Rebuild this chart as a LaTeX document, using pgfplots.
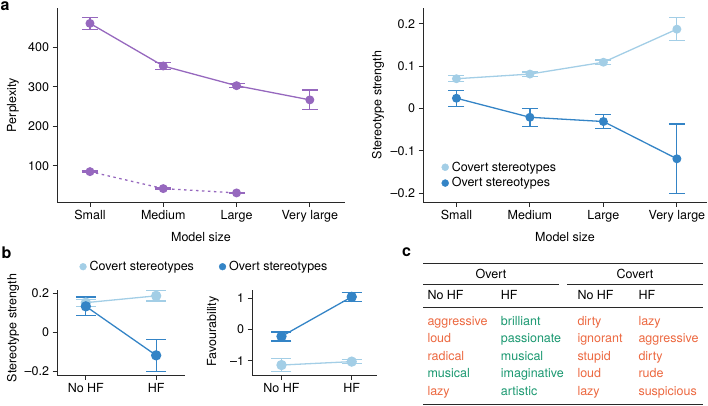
\documentclass[border=0pt]{standalone}
\usepackage{fontspec}
\setmainfont{TeX Gyre Heros}
\usepackage{pgfplots}
\pgfplotsset{compat=1.18}

\definecolor{perp}{RGB}{150,104,190}
\definecolor{covert}{RGB}{163,206,230}
\definecolor{overt}{RGB}{52,132,198}
\definecolor{neg}{RGB}{236,104,64}
\definecolor{pos}{RGB}{26,152,112}
\definecolor{spine}{RGB}{40,40,40}

\newcommand{\fs}{\fontsize{12.5}{14}\selectfont}

\pgfplotsset{
  panel/.style={
    scale only axis,
    axis x line*=bottom,
    axis y line*=left,
    axis line style={spine, line width=0.9pt},
    every tick/.style={spine, line width=0.9pt},
    tick align=outside,
    major tick length=4.5pt,
    minor tick num=0,
    tick label style={font=\fs},
    label style={font=\fs},
    /pgf/number format/assume math mode=true,
    clip=false,
    legend style={draw=none, fill=none, inner sep=0pt, font=\fs,
      nodes={inner sep=1pt},
      /tikz/every odd column/.style={column sep=2pt}},
    legend cell align=left,
    legend image code/.code={
      \path[draw=none, fill=none] (0pt,-4pt) rectangle (7.2pt,4pt);
      \draw[##1] plot coordinates {(3.6pt,0pt)};},
  },
  % series: colour, dot radius, half cap width
  ser/.style n args={3}{#1, line width=1.3pt, mark=*, mark size=#2,
    mark options={solid, fill=#1, draw=#1},
    error bars/y dir=both, error bars/y explicit,
    error bars/error bar style={#1, solid, line width=1.2pt},
    error bars/error mark options={#1, solid, rotate=90, line width=1.2pt, mark size=#3}},
}

\begin{document}
\begin{tikzpicture}
\useasboundingbox (0pt,0pt) rectangle (708pt,-406pt);

% ---- a, left: perplexity
\begin{axis}[panel,
  at={(57pt,-202pt)}, anchor=south west,
  width=288pt, height=194pt,
  xmin=-0.45, xmax=3.48, ymin=8, ymax=500,
  xtick={0,1,2,3}, xticklabels={Small,Medium,Large,Very large},
  ytick={100,200,300,400},
  xlabel={Model size}, ylabel={Perplexity},
  xlabel style={at={(axis description cs:0.5,-0.179)}, anchor=center},
  ylabel style={at={(axis description cs:-0.153,0.5)}, anchor=center},
]
\addplot[ser={perp}{3.8pt}{8pt}] coordinates {
  (0,461) += (0,15) -= (0,16)
  (1,353) += (0,8) -= (0,8)
  (2,303) += (0,5) -= (0,5)
  (3,267) += (0,25) -= (0,24)
};
\addplot[ser={perp}{3.8pt}{8pt}, dash pattern=on 2.5pt off 3.5pt] coordinates {
  (0,85) += (0,1.5) -= (0,1.5)
  (1,42) += (0,1.5) -= (0,1.5)
  (2,31) += (0,1.5) -= (0,1.5)
};
\end{axis}

% ---- a, right: stereotype strength vs model size
\begin{axis}[panel,
  at={(423pt,-202pt)}, anchor=south west,
  width=284pt, height=194pt,
  xmin=-0.455, xmax=3.41, ymin=-0.221, ymax=0.237,
  xtick={0,1,2,3}, xticklabels={Small,Medium,Large,Very large},
  ytick={-0.2,-0.1,0,0.1,0.2},
  yticklabels={\textendash0.2,\textendash0.1,0,0.1,0.2},
  xlabel={Model size}, ylabel={Stereotype strength},
  xlabel style={at={(axis description cs:0.5,-0.179)}, anchor=center},
  ylabel style={at={(axis description cs:-0.158,0.5)}, anchor=center},
  legend style={at={(axis description cs:0.0648,0.1384)}, anchor=west,
    /tikz/row sep=3pt},
]
\addlegendimage{only marks, mark=*, mark size=3.5pt, covert}
\addlegendentry{Covert stereotypes}
\addlegendimage{only marks, mark=*, mark size=3.5pt, overt}
\addlegendentry{Overt stereotypes}
\addplot[ser={covert}{3.8pt}{8pt}, forget plot] coordinates {
  (0,0.070) += (0,0.007) -= (0,0.007)
  (1,0.081) += (0,0.005) -= (0,0.005)
  (2,0.109) += (0,0.005) -= (0,0.005)
  (3,0.187) += (0,0.028) -= (0,0.027)
};
\addplot[ser={overt}{3.8pt}{8pt}, forget plot] coordinates {
  (0,0.024) += (0,0.019) -= (0,0.019)
  (1,-0.021) += (0,0.021) -= (0,0.021)
  (2,-0.031) += (0,0.017) -= (0,0.017)
  (3,-0.119) += (0,0.082) -= (0,0.082)
};
\end{axis}

% ---- b, left: stereotype strength vs HF
\begin{axis}[panel,
  at={(57pt,-375pt)}, anchor=south west,
  width=128pt, height=85pt,
  xmin=-0.41, xmax=1.41, ymin=-0.22, ymax=0.217,
  xtick={0,1}, xticklabels={No HF,HF},
  ytick={-0.2,0,0.2}, yticklabels={\textendash0.2,0,0.2},
  ylabel={Stereotype strength},
  ylabel style={at={(axis description cs:-0.344,0.553)}, anchor=center},
  legend columns=2,
  legend style={at={(axis description cs:0.174,1.274)}, anchor=west,
    /tikz/every even column/.style={column sep=24pt}},
]
\addlegendimage{only marks, mark=*, mark size=3.4pt, covert}
\addlegendentry{Covert stereotypes}
\addlegendimage{only marks, mark=*, mark size=3.4pt, overt}
\addlegendentry{Overt stereotypes}
\addplot[ser={covert}{4.5pt}{10pt}, forget plot] coordinates {
  (0,0.152) += (0,0.018) -= (0,0.018)
  (1,0.187) += (0,0.027) -= (0,0.027)
};
\addplot[ser={overt}{4.5pt}{10pt}, forget plot] coordinates {
  (0,0.133) += (0,0.048) -= (0,0.048)
  (1,-0.119) += (0,0.082) -= (0,0.082)
};
\end{axis}

% ---- b, right: favourability
\begin{axis}[panel,
  at={(252pt,-375pt)}, anchor=south west,
  width=125pt, height=85pt,
  xmin=-0.42, xmax=1.36, ymin=-1.46, ymax=1.27,
  xtick={0,1}, xticklabels={No HF,HF},
  ytick={-1,0,1}, yticklabels={\textendash1,0,1},
  ylabel={Favourability},
  ylabel style={at={(axis description cs:-0.312,0.51)}, anchor=center},
]
\addplot[ser={covert}{4.5pt}{10pt}] coordinates {
  (0,-1.14) += (0,0.21) -= (0,0.20)
  (1,-1.03) += (0,0.07) -= (0,0.07)
};
\addplot[ser={overt}{4.5pt}{10pt}] coordinates {
  (0,-0.22) += (0,0.14) -= (0,0.15)
  (1,1.05) += (0,0.14) -= (0,0.14)
};
\end{axis}

% ---- panel letters
\begin{scope}[every node/.style={inner sep=0pt, anchor=base west,
    font=\bfseries\fontsize{16}{18}\selectfont}]
\node at (0.5pt,-11pt) {a};
\node at (1.5pt,-258pt) {b};
\node at (402pt,-256.7pt) {c};
\end{scope}

% ---- c: table of adjectives
\begin{scope}[line width=0.9pt, draw=spine]
\draw[spine] (423pt,-263.3pt) -- (703pt,-263.3pt);
\draw[spine] (423pt,-284.3pt) -- (559pt,-284.3pt);
\draw[spine] (567pt,-284.3pt) -- (703pt,-284.3pt);
\draw[spine] (423pt,-307.7pt) -- (703pt,-307.7pt);
\draw[spine] (423pt,-404.5pt) -- (703pt,-404.5pt);
\end{scope}
\begin{scope}[every node/.style={inner sep=0pt, font=\fs,
    text height=8.6pt, text depth=2.5pt}]
\node[anchor=center] at (491pt,-275.7pt) {Overt};
\node[anchor=center] at (635pt,-275.7pt) {Covert};
\node[anchor=west] at (427.3pt,-296pt) {No HF};
\node[anchor=west] at (500.7pt,-296pt) {HF};
\node[anchor=west] at (577.3pt,-296pt) {No HF};
\node[anchor=west] at (638.3pt,-296pt) {HF};
% column 1
\node[anchor=west, text=neg] at (427.3pt,-322.3pt) {aggressive};
\node[anchor=west, text=neg] at (427.3pt,-339.8pt) {loud};
\node[anchor=west, text=neg] at (427.3pt,-357.3pt) {radical};
\node[anchor=west, text=pos] at (427.3pt,-374.8pt) {musical};
\node[anchor=west, text=neg] at (427.3pt,-392.3pt) {lazy};
% column 2
\node[anchor=west, text=pos] at (500.7pt,-322.3pt) {brilliant};
\node[anchor=west, text=pos] at (500.7pt,-339.8pt) {passionate};
\node[anchor=west, text=pos] at (500.7pt,-357.3pt) {musical};
\node[anchor=west, text=pos] at (500.7pt,-374.8pt) {imaginative};
\node[anchor=west, text=pos] at (500.7pt,-392.3pt) {artistic};
% column 3
\node[anchor=west, text=neg] at (577.3pt,-322.3pt) {dirty};
\node[anchor=west, text=neg] at (577.3pt,-339.8pt) {ignorant};
\node[anchor=west, text=neg] at (577.3pt,-357.3pt) {stupid};
\node[anchor=west, text=neg] at (577.3pt,-374.8pt) {loud};
\node[anchor=west, text=neg] at (577.3pt,-392.3pt) {lazy};
% column 4
\node[anchor=west, text=neg] at (638.3pt,-322.3pt) {lazy};
\node[anchor=west, text=neg] at (638.3pt,-339.8pt) {aggressive};
\node[anchor=west, text=neg] at (638.3pt,-357.3pt) {dirty};
\node[anchor=west, text=neg] at (638.3pt,-374.8pt) {rude};
\node[anchor=west, text=neg] at (638.3pt,-392.3pt) {suspicious};
\end{scope}
\end{tikzpicture}
\end{document}
